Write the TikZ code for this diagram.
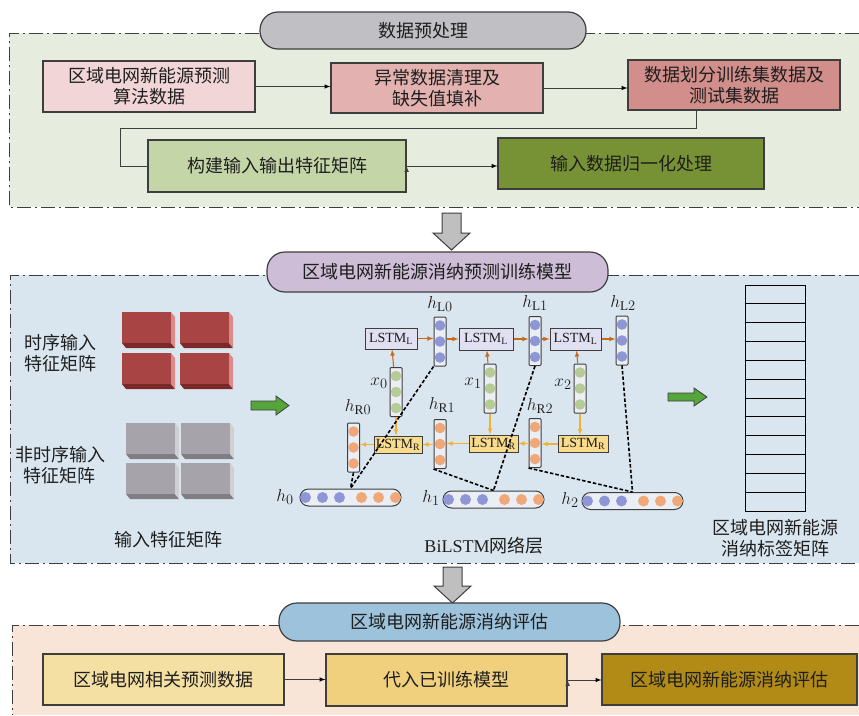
\documentclass[tikz,border=0pt]{standalone}
\usepackage{fontspec}
\setmainfont{Liberation Serif}
\newfontfamily\cjk{Noto Sans CJK SC}
\usepackage{tikz}
\usetikzlibrary{arrows,positioning,calc}

\definecolor{edgegray}{RGB}{62,62,62}
\definecolor{txt}{RGB}{30,30,30}
\definecolor{panelA}{RGB}{230,236,222}
\definecolor{panelB}{RGB}{218,230,239}
\definecolor{panelC}{RGB}{249,229,216}
\definecolor{pillA}{RGB}{191,191,196}
\definecolor{pillB}{RGB}{205,189,214}
\definecolor{pillC}{RGB}{157,195,220}
\definecolor{boxA}{RGB}{242,213,214}
\definecolor{boxB}{RGB}{227,178,176}
\definecolor{boxC}{RGB}{209,142,138}
\definecolor{boxD}{RGB}{196,213,168}
\definecolor{boxE}{RGB}{119,146,52}
\definecolor{boxF}{RGB}{245,224,164}
\definecolor{boxG}{RGB}{240,208,125}
\definecolor{boxH}{RGB}{178,138,22}
\definecolor{lstmL}{RGB}{224,224,242}
\definecolor{lstmR}{RGB}{248,220,140}
\definecolor{barfill}{RGB}{234,239,246}
\definecolor{blueball}{RGB}{142,150,214}
\definecolor{greenball}{RGB}{181,204,150}
\definecolor{orangeball}{RGB}{240,168,120}
\definecolor{orangeline}{RGB}{200,106,30}
\definecolor{yellowline}{RGB}{242,177,52}
\definecolor{arrowgreen}{RGB}{84,166,60}
\definecolor{arrowgray}{RGB}{191,191,191}
\definecolor{redfront}{RGB}{168,68,68}
\definecolor{redside}{RGB}{216,140,138}
\definecolor{redbottom}{RGB}{122,40,40}
\definecolor{grayfront}{RGB}{166,164,170}
\definecolor{grayside}{RGB}{208,208,211}
\definecolor{graybottom}{RGB}{128,126,132}

% 3D feature block: x, y, front, side, bottom
\newcommand{\featblock}[5]{%
  \fill[#5] (#1,#2+31) -- ++(49,0) -- ++(4,5) -- ++(-49,0) -- cycle;
  \fill[#4] (#1+49,#2) -- ++(4,5) -- ++(0,31) -- ++(-4,-5) -- cycle;
  \fill[#3] (#1,#2) rectangle ++(49,31);
}
% vertical vector: name, x, y, colour
\newcommand{\vvec}[4]{%
  \node (#1) [vbar] at (#2,#3) {};
  \foreach \d in {-16,0,16} \fill[#4] (#2,#3+\d) circle (5.3pt);
}
% horizontal vector: name, x, y
\newcommand{\hvec}[3]{%
  \node (#1) [hbar] at (#2,#3) {};
  \foreach \d in {-45,-28,-11} \fill[blueball] (#2+\d,#3) circle (5.5pt);
  \foreach \d in {11,28,45} \fill[orangeball] (#2+\d,#3) circle (5.5pt);
}

\tikzset{
  box/.style={draw=edgegray, line width=1.2pt, inner sep=0pt, align=center, text=txt,
    font=\cjk\fontsize{18}{21}\selectfont},
  pill/.style={draw=edgegray, line width=1.2pt, rounded corners=18pt, inner sep=0pt, text=txt,
    font=\cjk\fontsize{18}{21}\selectfont},
  panelline/.style={draw=edgegray, line width=1pt, dash pattern=on 14pt off 4pt on 2pt off 4pt},
  lstm/.style={draw=edgegray, line width=1pt, inner sep=0pt, text=txt, font=\fontsize{14}{16}\selectfont},
  vbar/.style={draw=edgegray, line width=1pt, fill=barfill, minimum width=12pt, minimum height=49pt,
    inner sep=0pt, rounded corners=1pt},
  hbar/.style={draw=edgegray, line width=1pt, fill=barfill, minimum width=101pt, minimum height=17pt,
    inner sep=0pt, rounded corners=8.5pt},
  oarr/.style={->, >=latex, draw=orangeline, line width=1.1pt},
  yarr/.style={->, >=latex, draw=yellowline, line width=1.1pt},
  tie/.style={draw=black, line width=1.6pt, dash pattern=on 3.5pt off 2pt},
  lab/.style={text=txt, font=\fontsize{19}{22}\selectfont},
  note/.style={text=txt, align=center, font=\cjk\fontsize{18}{21}\selectfont},
}

\begin{document}
\begin{tikzpicture}[x=1pt, y=-1pt]
  \useasboundingbox (0,0) rectangle (859,715);

  % panels
  \fill[panelA] (9,33) rectangle (859,207);
  \draw[panelline] (859,33) -- (9,33) -- (9,207) -- (859,207);
  \fill[panelB] (10,275) rectangle (859,563);
  \draw[panelline] (859,275) -- (10,275) -- (10,563) -- (859,563);
  \fill[panelC] (12,625) rectangle (859,715);
  \draw[panelline] (859,625) -- (12,625) -- (12,715);

  % data preprocessing
  \node (P1) [pill, fill=pillA, minimum width=326pt, minimum height=37pt] at (423,30.5) {数据预处理};
  \node (B1) [box, fill=boxA, minimum width=212pt, minimum height=51pt] at (149,86.5) {区域电网新能源预测\\算法数据};
  \node (B2) [box, fill=boxB, minimum width=212pt, minimum height=50pt] at (437,88) {异常数据清理及\\缺失值填补};
  \node (B3) [box, fill=boxC, minimum width=212pt, minimum height=50pt] at (734,85) {数据划分训练集数据及\\测试集数据};
  \node (B4) [box, fill=boxD, minimum width=258pt, minimum height=52pt] at (277,166) {构建输入输出特征矩阵};
  \node (B5) [box, fill=boxE, minimum width=266pt, minimum height=51pt] at (631,163.5) {输入数据归一化处理};

  \path [->, >=latex] [draw=edgegray, line width=1pt]
  (B1.east) edge (B1.east -| B2.west)
  (B2.east) edge (B2.east -| B3.west)
  (B4.east) edge (B4.east -| B5.west);
  \draw [edgegray, line width=1pt] ([xshift=-38pt]B3.south) |- (120,128) |- (B4.west);

  % down arrow
  \draw [edgegray, fill=arrowgray, line width=1pt] (442,213) -- (461,213) -- (461,233) -- (470,233)
    -- (451.5,250) -- (433,233) -- (442,233) -- cycle;

  % training model
  \node (P2) [pill, fill=pillB, minimum width=341pt, minimum height=40pt] at (437.5,272) {区域电网新能源消纳预测训练模型};

  \node (T1) [note] at (60,353) {时序输入\\特征矩阵};
  \node (T2) [note] at (60,465) {非时序输入\\特征矩阵};
  \node (T3) [note] at (168,540) {输入特征矩阵};
  \featblock{122}{312}{redfront}{redside}{redbottom}
  \featblock{180}{312}{redfront}{redside}{redbottom}
  \featblock{122}{353}{redfront}{redside}{redbottom}
  \featblock{180}{353}{redfront}{redside}{redbottom}
  \featblock{126}{423}{grayfront}{grayside}{graybottom}
  \featblock{181}{423}{grayfront}{grayside}{graybottom}
  \featblock{126}{463}{grayfront}{grayside}{graybottom}
  \featblock{181}{463}{grayfront}{grayside}{graybottom}

  \draw [edgegray, fill=arrowgreen, line width=0.8pt] (251,401) -- (276,401) -- (276,396) -- (289,405.5)
    -- (276,415) -- (276,410) -- (251,410) -- cycle;
  \draw [edgegray, fill=arrowgreen, line width=0.8pt] (668,393) -- (694,393) -- (694,388) -- (707,397)
    -- (694,406) -- (694,401) -- (668,401) -- cycle;

  % BiLSTM
  \node (L0) [lstm, fill=lstmL, minimum width=52pt, minimum height=21pt] at (391,338.5) {LSTM$_{\mathrm{L}}$};
  \node (L1) [lstm, fill=lstmL, minimum width=54pt, minimum height=22pt] at (486,339) {LSTM$_{\mathrm{L}}$};
  \node (L2) [lstm, fill=lstmL, minimum width=51pt, minimum height=22pt] at (575.5,339) {LSTM$_{\mathrm{L}}$};
  \node (R0) [lstm, fill=lstmR, minimum width=48pt, minimum height=17pt] at (398,444.5) {LSTM$_{\mathrm{R}}$};
  \node (R1) [lstm, fill=lstmR, minimum width=49pt, minimum height=17pt] at (493.5,443.5) {LSTM$_{\mathrm{R}}$};
  \node (R2) [lstm, fill=lstmR, minimum width=50pt, minimum height=17pt] at (583,444) {LSTM$_{\mathrm{R}}$};

  \vvec{hL0}{440}{341.5}{blueball}
  \vvec{hL1}{535}{341}{blueball}
  \vvec{hL2}{622}{340.5}{blueball}
  \vvec{x0}{396}{392}{greenball}
  \vvec{x1}{490}{388.5}{greenball}
  \vvec{x2}{580}{388.5}{greenball}
  \vvec{hR0}{353.5}{447.5}{orangeball}
  \vvec{hR1}{440}{444}{orangeball}
  \vvec{hR2}{535}{443}{orangeball}
  \hvec{h0}{350.5}{497.5}
  \hvec{h1}{493.5}{499.5}
  \hvec{h2}{632.5}{501}

  \node [lab] at (440,304) {$h_{\mathrm{L}0}$};
  \node [lab] at (535,303) {$h_{\mathrm{L}1}$};
  \node [lab] at (623,303) {$h_{\mathrm{L}2}$};
  \node [lab] at (358,407) {$h_{\mathrm{R}0}$};
  \node [lab] at (442,405) {$h_{\mathrm{R}1}$};
  \node [lab] at (540,406) {$h_{\mathrm{R}2}$};
  \node [lab] at (379,383) {$x_0$};
  \node [lab] at (473,383) {$x_1$};
  \node [lab] at (563,384) {$x_2$};
  \node [lab] at (285,497) {$h_0$};
  \node [lab] at (431,498) {$h_1$};
  \node [lab] at (570,500) {$h_2$};

  \draw [oarr] (x0) -- (L0);
  \draw [oarr] (x1) -- (L1);
  \draw [oarr] (x2) -- (L2);
  \draw [oarr] (L0.east) -- (L0.east -| hL0.west);
  \draw [oarr] (hL0.east |- L1.west) -- (L1.west);
  \draw [oarr] (L1.east) -- (L1.east -| hL1.west);
  \draw [oarr] (hL1.east |- L2.west) -- (L2.west);
  \draw [oarr] (L2.east) -- (L2.east -| hL2.west);
  \draw [yarr] (x0) -- (x0 |- R0.north);
  \draw [yarr] (x1) -- (x1 |- R1.north);
  \draw [yarr] (x2) -- (x2 |- R2.north);
  \draw [yarr] (R2.west) -- (R2.west -| hR2.east);
  \draw [yarr] (hR2.west |- R1.east) -- (R1.east);
  \draw [yarr] (R1.west) -- (R1.west -| hR1.east);
  \draw [yarr] (hR1.west |- R0.east) -- (R0.east);
  \draw [yarr] (R0.west) -- (R0.west -| hR0.east);

  \draw [tie] (hL0.south west) -- (h0.north);
  \draw [tie] (hR0.south) -- (h0.north);
  \draw [tie] (hL1.south) -- (h1.north);
  \draw [tie] (hR1.south west) -- (h1.north);
  \draw [tie] (hL2.south) -- (h2.north);
  \draw [tie] (hR2.south west) -- (h2.north);

  \node (T4) [note, font=\fontsize{18}{21}\selectfont] at (484,546) {BiLSTM{\cjk 网络层}};

  % label matrix
  \node (M) [draw=black, line width=1pt, minimum width=60pt, minimum height=226pt] at (775,398) {};
  \foreach \i in {1,...,11}
    \draw [black, line width=1pt] ($(M.north west)!\i/12!(M.south west)$) -- ($(M.north east)!\i/12!(M.south east)$);
  \node (T5) [note] at (775,538) {区域电网新能源\\消纳标签矩阵};

  % down arrow
  \draw [edgegray, fill=arrowgray, line width=1pt] (443,567) -- (462,567) -- (462,586) -- (471,586)
    -- (452.5,603) -- (434,586) -- (443,586) -- cycle;

  % evaluation
  \node (P3) [pill, fill=pillC, minimum width=341pt, minimum height=38pt] at (449.5,622) {区域电网新能源消纳评估};
  \node (C1) [box, fill=boxF, minimum width=241pt, minimum height=51pt] at (163.5,679.5) {区域电网相关预测数据};
  \node (C2) [box, fill=boxG, minimum width=241pt, minimum height=52pt] at (446.5,680) {代入已训练模型};
  \node (C3) [box, fill=boxH, minimum width=255pt, minimum height=51pt] at (729.5,679.5) {区域电网新能源消纳评估};

  \path [->, >=latex] [draw=edgegray, line width=1pt]
  (C1.east) edge (C1.east -| C2.west)
  (C2.east) edge (C2.east -| C3.west);
\end{tikzpicture}
\end{document}
